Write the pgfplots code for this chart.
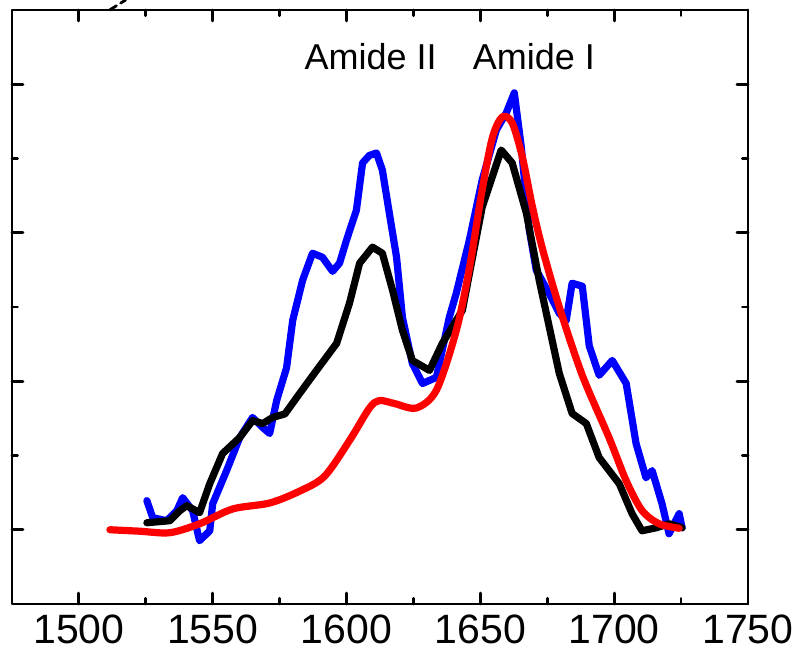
\documentclass[border=0pt]{standalone}
\usepackage{pgfplots}
\pgfplotsset{compat=1.18}
\usepackage{fontspec}
\setmainfont{Liberation Sans}
\usetikzlibrary{calc}
\begin{document}
\begin{tikzpicture}
\begin{axis}[
  scale only axis,
  width=368pt, height=297pt,
  xmin=1475, xmax=1750,
  ymin=-0.5, ymax=3.5,
  xtick={1500,1550,1600,1650,1700,1750},
  xticklabels={1500,1550,1600,1650,1700,1750},
  minor xtick={1525,1575,1625,1675,1725},
  ytick={0,1,2,3},
  minor ytick={0.5,1.5,2.5},
  yticklabels={},
  tick align=inside,
  major tick length=5.5pt,
  minor tick length=2.8pt,
  axis line style={line width=1.4pt},
  every tick/.style={black, line width=1.4pt},
  every x tick label/.style={font=\fontsize{20.5}{24}\selectfont, anchor=north, yshift=-2pt},
  clip=false,
  line join=round, line cap=round,
]
\addplot[blue, line width=3.6pt] coordinates {
(1525.4,0.196) (1527.6,0.081) (1532.8,0.061) (1536.6,0.128) (1538.8,0.216)
(1542.5,0.128) (1545.1,-0.074) (1548.9,-0.007) (1550.0,0.175) (1555.2,0.398)
(1560.1,0.621) (1564.9,0.756) (1568.7,0.688) (1571.3,0.648) (1573.9,0.870)
(1577.6,1.090) (1579.9,1.410) (1583.6,1.680) (1587.3,1.862) (1591.0,1.835)
(1594.8,1.740) (1597.4,1.795) (1600.0,1.950) (1603.7,2.152) (1606.0,2.470)
(1608.5,2.520) (1611.2,2.537) (1613.4,2.422) (1616.0,2.132) (1618.7,1.835)
(1620.9,1.430) (1624.6,1.120) (1628.4,0.985) (1633.6,1.026) (1638.4,1.430)
(1641.0,1.592) (1645.9,1.950) (1650.7,2.355) (1656.0,2.692) (1659.7,2.807)
(1662.7,2.942) (1665.3,2.578) (1668.3,2.018) (1670.9,1.748) (1675.7,1.592)
(1679.5,1.457) (1682.1,1.410) (1684.3,1.660) (1688.1,1.640) (1690.7,1.238)
(1694.4,1.040) (1699.3,1.140) (1704.5,0.985) (1708.2,0.580) (1711.9,0.350)
(1714.2,0.398) (1717.9,0.175) (1720.5,-0.027) (1724.3,0.108) (1725.4,0.013)
};
\addplot[black, line width=3.6pt] coordinates {
(1525.4,0.047) (1534.0,0.061) (1537.7,0.128) (1540.3,0.162) (1545.1,0.115)
(1548.9,0.310) (1553.7,0.513) (1560.1,0.621) (1564.9,0.735) (1568.7,0.715)
(1572.4,0.756) (1577.0,0.780) (1582.5,0.918) (1588.8,1.073) (1596.3,1.255)
(1601.1,1.525) (1604.9,1.795) (1609.7,1.903) (1613.4,1.862) (1617.2,1.613)
(1620.9,1.343) (1624.6,1.140) (1631.0,1.073) (1635.8,1.255) (1643.3,1.478)
(1650.7,2.173) (1657.8,2.557) (1661.9,2.470) (1667.2,2.132) (1672.0,1.680)
(1679.5,1.053) (1684.3,0.783) (1689.6,0.715) (1694.4,0.486) (1701.9,0.310)
(1706.7,0.108) (1710.4,-0.007) (1715.7,0.013) (1720.5,0.040) (1725.4,0.013)
};
\addplot[red, line width=3.6pt, smooth] coordinates {
(1511.6,0.00) (1522.8,-0.01) (1534.0,-0.02) (1545.1,0.04) (1557.5,0.14)
(1571.3,0.18) (1582.5,0.26) (1591.8,0.36) (1601.1,0.60) (1608.6,0.82)
(1612.3,0.87) (1617.9,0.85) (1626.1,0.82) (1633.6,0.94) (1641.0,1.34)
(1645.9,1.76) (1650.7,2.29) (1654.5,2.64) (1658.2,2.78) (1661.9,2.74)
(1665.7,2.51) (1669.4,2.18) (1673.1,1.90) (1679.5,1.50) (1688.1,1.04)
(1698.1,0.62) (1704.5,0.33) (1710.4,0.13) (1716.8,0.04) (1724.3,0.01)
};
\node[anchor=base, font=\fontsize{18}{21}\selectfont] at (axis cs:1609,3.10) {Amide II};
\node[anchor=base, font=\fontsize{18}{21}\selectfont] at (axis cs:1670,3.10) {Amide I};
\draw[line width=1.4pt, dashed, dash pattern=on 4pt off 2.5pt] (axis cs:1511.5,3.5) -- ++(8pt,5pt);
\draw[line width=1.2pt] (axis cs:1749,3.5) ++(-3pt,0) arc[start angle=-20, end angle=20, radius=8pt];
\end{axis}
\pgfresetboundingbox
\path ($(current axis.south west)+(-6pt,-26pt)$) rectangle ($(current axis.north east)+(23pt,5pt)$);
\end{tikzpicture}
\end{document}
